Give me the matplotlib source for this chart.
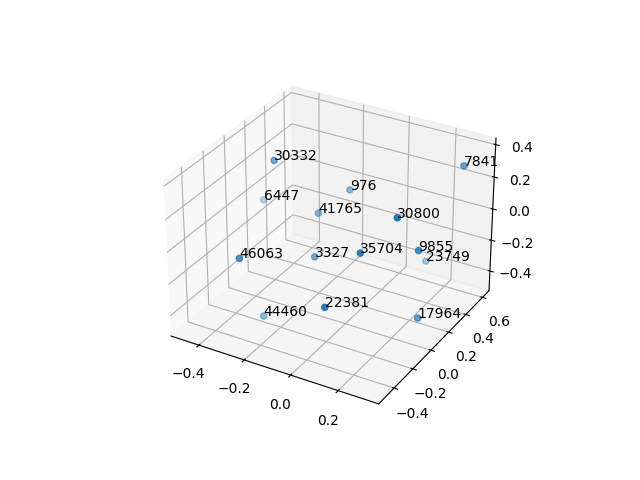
import matplotlib
matplotlib.use("Agg")
import matplotlib.pyplot as plt

labels = ["30332", "976", "7841", "6447", "41765", "30800", "46063", "3327", "35704", "9855", "23749", "17964", "22381", "44460"]
xs = [-0.32, -0.109, 0.315, -0.483, -0.176, 0.299, -0.261, -0.108, 0.183, 0.327, 0.157, 0.323, 0.128, -0.284]
ys = [0.03, 0.31, 0.46, 0.28, 0.14, -0.22, -0.45, -0.06, -0.30, -0.06, 0.49, -0.04, -0.52, -0.18]
zs = [0.35, 0.114, 0.355, -0.082, 0.026, 0.375, 0.017, -0.116, 0.159, 0.108, -0.324, -0.322, -0.072, -0.507]

fig = plt.figure()
ax = fig.add_subplot(projection="3d")
ax.scatter(xs, ys, zs)
for i in range(len(labels)):
    ax.text(xs[i], ys[i], zs[i], labels[i])

ax.set_xlim(-0.525, 0.367)
ax.set_ylim(-0.56, 0.68)
ax.set_zlim(-0.53, 0.44)

fig.savefig("out.png", dpi=100)
